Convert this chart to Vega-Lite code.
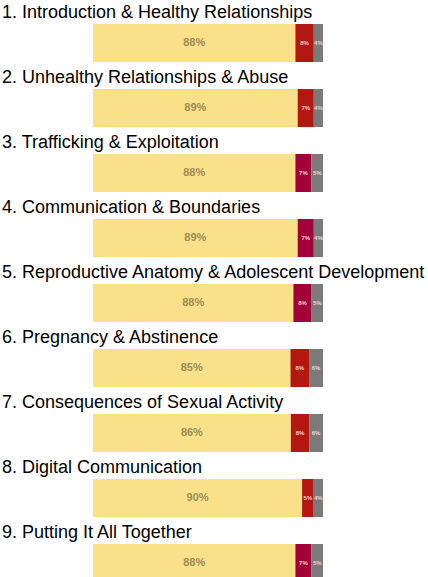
{
  "$schema": "https://vega.github.io/schema/vega-lite/v6.json",
  "background": "white",
  "padding": {"left": 2, "top": 4, "right": 0, "bottom": 0},
  "datasets": {
    "d": [
      {"topic": 1, "cat": "Agree", "pct": 0.88}, {"topic": 1, "cat": "Disagree", "pct": 0.08}, {"topic": 1, "cat": "Unsure", "pct": 0.04},
      {"topic": 2, "cat": "Agree", "pct": 0.89}, {"topic": 2, "cat": "Disagree", "pct": 0.07}, {"topic": 2, "cat": "Unsure", "pct": 0.04},
      {"topic": 3, "cat": "Agree", "pct": 0.88}, {"topic": 3, "cat": "Disagree (b)", "pct": 0.07}, {"topic": 3, "cat": "Unsure", "pct": 0.05},
      {"topic": 4, "cat": "Agree", "pct": 0.89}, {"topic": 4, "cat": "Disagree (b)", "pct": 0.07}, {"topic": 4, "cat": "Unsure", "pct": 0.04},
      {"topic": 5, "cat": "Agree", "pct": 0.88}, {"topic": 5, "cat": "Disagree (b)", "pct": 0.08}, {"topic": 5, "cat": "Unsure", "pct": 0.05},
      {"topic": 6, "cat": "Agree", "pct": 0.85}, {"topic": 6, "cat": "Disagree", "pct": 0.08}, {"topic": 6, "cat": "Unsure", "pct": 0.06},
      {"topic": 7, "cat": "Agree", "pct": 0.86}, {"topic": 7, "cat": "Disagree", "pct": 0.08}, {"topic": 7, "cat": "Unsure", "pct": 0.06},
      {"topic": 8, "cat": "Agree", "pct": 0.90}, {"topic": 8, "cat": "Disagree", "pct": 0.05}, {"topic": 8, "cat": "Unsure", "pct": 0.04},
      {"topic": 9, "cat": "Agree", "pct": 0.88}, {"topic": 9, "cat": "Disagree (b)", "pct": 0.07}, {"topic": 9, "cat": "Unsure", "pct": 0.05}
    ]
  },
  "data": {"name": "d"},
  "config": {
    "view": {"stroke": null},
    "title": {"fontSize": 18, "font": "Liberation Sans", "fontWeight": "normal", "anchor": "start", "dx": -91, "offset": 2, "color": "#000000", "limit": 0},
    "concat": {"spacing": 7},
    "text": {"font": "Liberation Sans", "fontWeight": "bold"}
  },
  "vconcat": [
    {"title": "1. Introduction & Healthy Relationships", "transform": [{"filter": "datum.topic == 1"}], "width": 230, "height": 38,
     "encoding": {"y": {"field": "topic", "type": "nominal", "axis": null, "scale": {"paddingInner": 0, "paddingOuter": 0}}, "x": {"field": "pct", "type": "quantitative", "stack": "normalize", "axis": null}, "order": {"field": "cat", "sort": "ascending"}},
     "layer": [
      {"mark": {"type": "bar"}, "encoding": {"color": {"field": "cat", "type": "nominal", "scale": {"domain": ["Agree", "Disagree", "Disagree (b)", "Unsure"], "range": ["#fbe08a", "#b3170f", "#a3003a", "#7a7a7a"]}, "legend": null}}},
      {"mark": {"type": "text"}, "encoding": {"x": {"field": "pct", "type": "quantitative", "stack": "normalize", "bandPosition": 0.5, "axis": null}, "detail": {"field": "cat", "type": "nominal"}, "text": {"field": "pct", "type": "quantitative", "format": ".0%"}, "color": {"condition": {"test": "datum.cat == 'Agree'", "value": "#9c8c55"}, "value": "#f0d0d4"}, "size": {"condition": {"test": "datum.cat == 'Agree'", "value": 11}, "value": 6}}}
     ]},
    {"title": "2. Unhealthy Relationships & Abuse", "transform": [{"filter": "datum.topic == 2"}], "width": 230, "height": 38,
     "encoding": {"y": {"field": "topic", "type": "nominal", "axis": null, "scale": {"paddingInner": 0, "paddingOuter": 0}}, "x": {"field": "pct", "type": "quantitative", "stack": "normalize", "axis": null}, "order": {"field": "cat", "sort": "ascending"}},
     "layer": [
      {"mark": {"type": "bar"}, "encoding": {"color": {"field": "cat", "type": "nominal", "scale": {"domain": ["Agree", "Disagree", "Disagree (b)", "Unsure"], "range": ["#fbe08a", "#b3170f", "#a3003a", "#7a7a7a"]}, "legend": null}}},
      {"mark": {"type": "text"}, "encoding": {"x": {"field": "pct", "type": "quantitative", "stack": "normalize", "bandPosition": 0.5, "axis": null}, "detail": {"field": "cat", "type": "nominal"}, "text": {"field": "pct", "type": "quantitative", "format": ".0%"}, "color": {"condition": {"test": "datum.cat == 'Agree'", "value": "#9c8c55"}, "value": "#f0d0d4"}, "size": {"condition": {"test": "datum.cat == 'Agree'", "value": 11}, "value": 6}}}
     ]},
    {"title": "3. Trafficking & Exploitation", "transform": [{"filter": "datum.topic == 3"}], "width": 230, "height": 38,
     "encoding": {"y": {"field": "topic", "type": "nominal", "axis": null, "scale": {"paddingInner": 0, "paddingOuter": 0}}, "x": {"field": "pct", "type": "quantitative", "stack": "normalize", "axis": null}, "order": {"field": "cat", "sort": "ascending"}},
     "layer": [
      {"mark": {"type": "bar"}, "encoding": {"color": {"field": "cat", "type": "nominal", "scale": {"domain": ["Agree", "Disagree", "Disagree (b)", "Unsure"], "range": ["#fbe08a", "#b3170f", "#a3003a", "#7a7a7a"]}, "legend": null}}},
      {"mark": {"type": "text"}, "encoding": {"x": {"field": "pct", "type": "quantitative", "stack": "normalize", "bandPosition": 0.5, "axis": null}, "detail": {"field": "cat", "type": "nominal"}, "text": {"field": "pct", "type": "quantitative", "format": ".0%"}, "color": {"condition": {"test": "datum.cat == 'Agree'", "value": "#9c8c55"}, "value": "#f0d0d4"}, "size": {"condition": {"test": "datum.cat == 'Agree'", "value": 11}, "value": 6}}}
     ]},
    {"title": "4. Communication & Boundaries", "transform": [{"filter": "datum.topic == 4"}], "width": 230, "height": 38,
     "encoding": {"y": {"field": "topic", "type": "nominal", "axis": null, "scale": {"paddingInner": 0, "paddingOuter": 0}}, "x": {"field": "pct", "type": "quantitative", "stack": "normalize", "axis": null}, "order": {"field": "cat", "sort": "ascending"}},
     "layer": [
      {"mark": {"type": "bar"}, "encoding": {"color": {"field": "cat", "type": "nominal", "scale": {"domain": ["Agree", "Disagree", "Disagree (b)", "Unsure"], "range": ["#fbe08a", "#b3170f", "#a3003a", "#7a7a7a"]}, "legend": null}}},
      {"mark": {"type": "text"}, "encoding": {"x": {"field": "pct", "type": "quantitative", "stack": "normalize", "bandPosition": 0.5, "axis": null}, "detail": {"field": "cat", "type": "nominal"}, "text": {"field": "pct", "type": "quantitative", "format": ".0%"}, "color": {"condition": {"test": "datum.cat == 'Agree'", "value": "#9c8c55"}, "value": "#f0d0d4"}, "size": {"condition": {"test": "datum.cat == 'Agree'", "value": 11}, "value": 6}}}
     ]},
    {"title": "5. Reproductive Anatomy & Adolescent Development", "transform": [{"filter": "datum.topic == 5"}], "width": 230, "height": 38,
     "encoding": {"y": {"field": "topic", "type": "nominal", "axis": null, "scale": {"paddingInner": 0, "paddingOuter": 0}}, "x": {"field": "pct", "type": "quantitative", "stack": "normalize", "axis": null}, "order": {"field": "cat", "sort": "ascending"}},
     "layer": [
      {"mark": {"type": "bar"}, "encoding": {"color": {"field": "cat", "type": "nominal", "scale": {"domain": ["Agree", "Disagree", "Disagree (b)", "Unsure"], "range": ["#fbe08a", "#b3170f", "#a3003a", "#7a7a7a"]}, "legend": null}}},
      {"mark": {"type": "text"}, "encoding": {"x": {"field": "pct", "type": "quantitative", "stack": "normalize", "bandPosition": 0.5, "axis": null}, "detail": {"field": "cat", "type": "nominal"}, "text": {"field": "pct", "type": "quantitative", "format": ".0%"}, "color": {"condition": {"test": "datum.cat == 'Agree'", "value": "#9c8c55"}, "value": "#f0d0d4"}, "size": {"condition": {"test": "datum.cat == 'Agree'", "value": 11}, "value": 6}}}
     ]},
    {"title": "6. Pregnancy & Abstinence", "transform": [{"filter": "datum.topic == 6"}], "width": 230, "height": 38,
     "encoding": {"y": {"field": "topic", "type": "nominal", "axis": null, "scale": {"paddingInner": 0, "paddingOuter": 0}}, "x": {"field": "pct", "type": "quantitative", "stack": "normalize", "axis": null}, "order": {"field": "cat", "sort": "ascending"}},
     "layer": [
      {"mark": {"type": "bar"}, "encoding": {"color": {"field": "cat", "type": "nominal", "scale": {"domain": ["Agree", "Disagree", "Disagree (b)", "Unsure"], "range": ["#fbe08a", "#b3170f", "#a3003a", "#7a7a7a"]}, "legend": null}}},
      {"mark": {"type": "text"}, "encoding": {"x": {"field": "pct", "type": "quantitative", "stack": "normalize", "bandPosition": 0.5, "axis": null}, "detail": {"field": "cat", "type": "nominal"}, "text": {"field": "pct", "type": "quantitative", "format": ".0%"}, "color": {"condition": {"test": "datum.cat == 'Agree'", "value": "#9c8c55"}, "value": "#f0d0d4"}, "size": {"condition": {"test": "datum.cat == 'Agree'", "value": 11}, "value": 6}}}
     ]},
    {"title": "7. Consequences of Sexual Activity", "transform": [{"filter": "datum.topic == 7"}], "width": 230, "height": 38,
     "encoding": {"y": {"field": "topic", "type": "nominal", "axis": null, "scale": {"paddingInner": 0, "paddingOuter": 0}}, "x": {"field": "pct", "type": "quantitative", "stack": "normalize", "axis": null}, "order": {"field": "cat", "sort": "ascending"}},
     "layer": [
      {"mark": {"type": "bar"}, "encoding": {"color": {"field": "cat", "type": "nominal", "scale": {"domain": ["Agree", "Disagree", "Disagree (b)", "Unsure"], "range": ["#fbe08a", "#b3170f", "#a3003a", "#7a7a7a"]}, "legend": null}}},
      {"mark": {"type": "text"}, "encoding": {"x": {"field": "pct", "type": "quantitative", "stack": "normalize", "bandPosition": 0.5, "axis": null}, "detail": {"field": "cat", "type": "nominal"}, "text": {"field": "pct", "type": "quantitative", "format": ".0%"}, "color": {"condition": {"test": "datum.cat == 'Agree'", "value": "#9c8c55"}, "value": "#f0d0d4"}, "size": {"condition": {"test": "datum.cat == 'Agree'", "value": 11}, "value": 6}}}
     ]},
    {"title": "8. Digital Communication", "transform": [{"filter": "datum.topic == 8"}], "width": 230, "height": 38,
     "encoding": {"y": {"field": "topic", "type": "nominal", "axis": null, "scale": {"paddingInner": 0, "paddingOuter": 0}}, "x": {"field": "pct", "type": "quantitative", "stack": "normalize", "axis": null}, "order": {"field": "cat", "sort": "ascending"}},
     "layer": [
      {"mark": {"type": "bar"}, "encoding": {"color": {"field": "cat", "type": "nominal", "scale": {"domain": ["Agree", "Disagree", "Disagree (b)", "Unsure"], "range": ["#fbe08a", "#b3170f", "#a3003a", "#7a7a7a"]}, "legend": null}}},
      {"mark": {"type": "text"}, "encoding": {"x": {"field": "pct", "type": "quantitative", "stack": "normalize", "bandPosition": 0.5, "axis": null}, "detail": {"field": "cat", "type": "nominal"}, "text": {"field": "pct", "type": "quantitative", "format": ".0%"}, "color": {"condition": {"test": "datum.cat == 'Agree'", "value": "#9c8c55"}, "value": "#f0d0d4"}, "size": {"condition": {"test": "datum.cat == 'Agree'", "value": 11}, "value": 6}}}
     ]},
    {"title": "9. Putting It All Together", "transform": [{"filter": "datum.topic == 9"}], "width": 230, "height": 38,
     "encoding": {"y": {"field": "topic", "type": "nominal", "axis": null, "scale": {"paddingInner": 0, "paddingOuter": 0}}, "x": {"field": "pct", "type": "quantitative", "stack": "normalize", "axis": null}, "order": {"field": "cat", "sort": "ascending"}},
     "layer": [
      {"mark": {"type": "bar"}, "encoding": {"color": {"field": "cat", "type": "nominal", "scale": {"domain": ["Agree", "Disagree", "Disagree (b)", "Unsure"], "range": ["#fbe08a", "#b3170f", "#a3003a", "#7a7a7a"]}, "legend": null}}},
      {"mark": {"type": "text"}, "encoding": {"x": {"field": "pct", "type": "quantitative", "stack": "normalize", "bandPosition": 0.5, "axis": null}, "detail": {"field": "cat", "type": "nominal"}, "text": {"field": "pct", "type": "quantitative", "format": ".0%"}, "color": {"condition": {"test": "datum.cat == 'Agree'", "value": "#9c8c55"}, "value": "#f0d0d4"}, "size": {"condition": {"test": "datum.cat == 'Agree'", "value": 11}, "value": 6}}}
     ]}
  ]
}
